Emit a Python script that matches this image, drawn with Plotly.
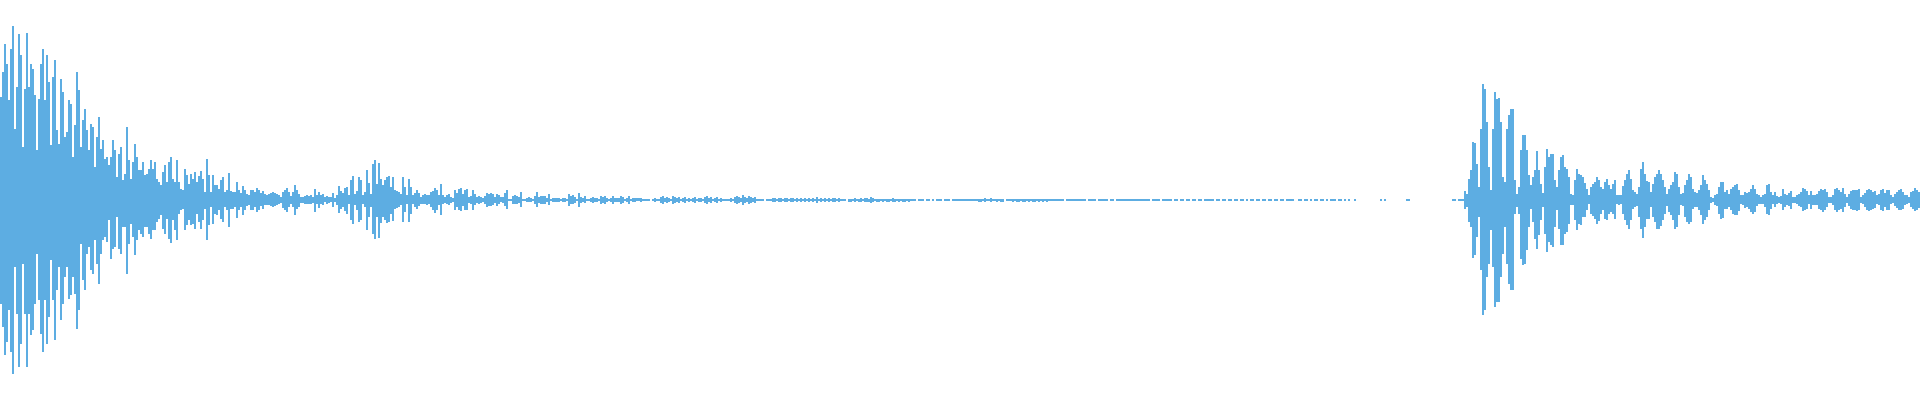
import plotly.graph_objects as go

# Audio waveform: peak levels per 2-px time bin, full scale = 200 units each side.
# Segment A: attack / decay of the first hit
seg_a_pos = [103,128,156,136,100,151,174,71,113,166,145,53,111,167,113,136,131,105,50,101,
             136,151,100,145,118,55,123,140,70,56,121,108,63,68,100,96,43,75,128,110,
             53,80,91,70,50,76,73,33,63,83,51,60,41,43,35,43,60,50,23,46,
             53,20,26,73,40,21,38,56,43,30,30,38,25,26,31,40,31,38,21,18]
seg_a_neg = [104,127,155,142,110,152,174,67,114,167,144,64,114,167,114,135,130,104,54,100,
             134,152,100,144,117,60,100,140,90,67,120,104,77,67,99,95,77,94,129,110,
             44,80,90,54,47,70,74,40,64,84,54,40,37,42,20,59,49,47,17,49,
             54,27,27,74,44,24,37,55,40,30,34,37,27,27,34,39,30,30,22,19]
# Segment B: tail of first hit
seg_b_pos = [15,28,35,18,38,43,21,18,40,18,11,10,31,25,16,26,21,28,18,24,
             29,21,8,41,25,8,25,15,15,11,20,23,8,10,27,9,8,8,18,10,
             7,14,10,6,5,10,10,8,12,10,7,9,6,5,6,7,8,7,6,5,
             3,8,10,12,8,4,8,15,10,6,3,3,4,5,4,5,3,11,5,8]
seg_b_neg = [15,29,34,19,39,43,20,30,40,14,10,9,30,25,20,25,24,29,14,22,
             29,20,9,40,25,7,24,14,15,10,19,22,7,10,27,9,9,7,18,10,
             7,15,10,6,5,10,10,7,12,10,6,9,5,5,5,6,7,6,5,4,
             3,8,10,12,7,4,7,15,9,7,3,3,4,4,4,4,3,12,4,8]
# Segment C: small secondary burst
seg_c_pos = [5,6,3,4,3,3,7,2,5,14,9,7,12,13,5,20,24,6,9,23,
             20,5,8,30,17,6,36,40,16,37,21,15,20,23,24,13,23,10,9,8,
             6,23,13,5,21,13,5,7,10,7,3,5,6,5,5,8,9,12,10,5,
             16,5,3,5,6,3,2,10,7,11,12,6,10,11,3,4,10,6,3,4]
seg_c_neg = [4,5,2,4,3,2,7,2,5,13,9,7,11,14,4,20,24,5,10,22,
             20,4,7,30,17,7,34,39,17,38,23,17,20,23,22,14,21,9,8,7,
             5,22,12,4,22,14,4,7,9,6,4,4,4,5,4,7,10,13,10,5,
             15,4,3,4,5,3,2,10,7,10,11,6,10,10,3,4,10,5,3,4]
# Segment D: low-level tail
seg_d_pos = [3,2,4,7,6,7,6,3,6,5,3,3,7,10,1,1,4,5,4,3,
             8,1,1,2,3,2,1,4,8,3,4,4,4,2,6,1,2,2,2,2,
             1,2,2,1,6,4,5,3,1,7,3,2,4,1,1,2,3,2,2,1,
             4,3,4,2,1,2,4,2,2,2,4,3,1,2,4,1,2,2,2,2]
seg_d_neg = [3,2,4,7,6,6,5,3,6,4,2,3,6,9,1,1,4,4,4,3,
             7,1,1,2,2,2,1,4,7,3,4,4,4,2,5,1,2,2,2,2,
             1,2,2,1,6,4,4,3,1,7,3,2,3,1,1,2,3,2,2,1,
             4,3,4,2,1,2,4,2,2,2,4,3,1,2,4,1,2,2,1,1]
# Segments E-I: near-silence (symmetric levels)
seg_e_lvl = [2,1,0.6,0.6,0.6,0,0.6,2,0.6,1,3,4,2,3,2,1,4,3,2,3,
             1,2,3,1,2,1,2,3,1,2,2,1,3,4,2,3,1,2,3,1,
             2,1,0.6,1,1,2,1,3,4,3,2,5,3,2,4,3,2,3,1,1,
             0.6,0.6,0,1,0.6,1,2,2,1,2,2,1,2,2,1,2,2,1,2,1]
seg_f_lvl = [2,1,2,1,2,1,2,1,3,1,2,1,2,1,2,1,2,2,1,2,
             1,0.6,0.6,0,1.5,1.5,0.6,2,1,1.5,2,1,2,2,1.5,3,2,1,1.5,1.5,
             0.6,1.5,0.6,1.5,1.5,0.6,2,1.5,0.6,1.5,0.6,1.5,1.5,0.6,1.5,1,0.6,1,0,0.6,
             1,0.6,0,1,1,0,1,0,1,0.6,1,0,1,0.6,1,0,1,1,0.6,1]
seg_g_lvl = [1,1,0.6,1,1,0.6,1,0.6,0.6,1.5,1.5,0.6,2,1,1,2,1,0.6,1.5,1,
             1.5,1.5,0,0.6,1,1,1.5,1,1.5,1.5,1,1.5,1.5,1,1.5,1,1.5,1.5,1,1.5,
             1,1.5,1,1.5,0.6,0.6,1,0.6,0.6,0.6,0.6,0.6,0,0.6,0.6,0.6,1,0.6,0.6,1,
             0.6,0.6,0.6,0,0.6,0.6,0.6,0.6,0,0.6,1,0.6,0.6,0.6,0,0.6,0.6,0,0.6,0.6]
seg_h_lvl = [0.6,1,0.6,0.6,0.6,1,0.6,0.6,1,0.6,1,1,0.6,0.6,0.6,0,1,0.6,0.6,1,
             0,0.6,1,0.6,1,0.6,0,1,0.6,0,0.6,0.6,0,1,0.6,0,0.6,0.6,0,0.6,
             0.6,0,0.6,0.6,1,0.6,0.6,0,0.6,0.6,0,0.6,0.6,0,0.6,0.6,0,0.6,0.6,0,
             0.6,0.6,0,0.6,0,0.6,0.6,0,0.6,0.6,0,0.6,0.6,0,0.6,0.6,0,0.6,0.6,0]
seg_i_lvl = [0.6,0.6,0,0.6,0.6,0.6,0.6,0,0,0.6,0.6,0,0.6,0.6,0,0.6,0,0.6,0.6,0,
             0.6,0.6,0,0.6,0,0.6,0.6,0.6,0,0.6,0.6,0,0.6,0,0.6,0,0,0.6,0,0,
             0,0,0,0,0,0,0,0,0,0,0.6,0,0.6,0,0,0,0,0,0,0,
             0,0,0,0.6,0.6,0,0,0,0,0,0,0,0,0,0,0,0,0,0,0]
# Segment J: second hit
seg_j_pos = [0,0,0,0,0,0,0.6,0.6,0,0.6,0.6,1,
             9,6,21,30,58,57,36,13,71,116,111,78,33,10,71,108,101,102,78,23,
             18,71,85,91,91,20,6,13,50,65,65,50,25,15,23,30,49,30,16,7,
             33,51,43,46,46,20,13,30,43,45,33,31,23,6,5,20,31,26,25,23,
             17,11,5,13,16,18,23,20]
seg_j_neg = [0,0,0,0,0,0,0.6,0.6,0,0.6,0.6,1,
             9,7,22,27,58,55,37,17,70,115,110,77,64,30,67,107,102,102,77,54,
             27,64,84,90,90,14,7,14,59,65,64,50,27,9,22,39,49,35,20,7,
             34,52,42,45,47,27,10,29,45,45,34,32,24,5,5,20,30,24,25,17,
             17,10,4,14,16,19,24,21]
# Segment K, L: second hit tail
seg_k_pos = [13,11,18,21,15,11,16,20,5,5,5,14,20,26,30,21,10,8,6,13,
             31,38,26,19,18,8,16,23,26,30,26,20,13,6,11,15,18,28,26,13,
             6,7,15,20,26,23,11,8,7,10,15,25,20,16,10,3,2,5,6,13,
             18,18,8,10,6,11,13,15,16,10,5,5,8,7,8,11,15,11,6,5]
seg_k_neg = [14,10,19,20,14,12,14,19,4,5,4,14,20,25,29,20,9,7,6,17,
             29,38,27,19,19,7,17,22,29,29,26,20,14,6,12,15,20,29,27,15,
             5,6,17,22,24,22,9,7,7,10,15,24,20,17,10,3,2,5,6,14,
             19,18,9,9,7,10,14,15,15,11,4,5,8,7,9,12,14,12,6,4]
seg_l_pos = [3,5,6,15,16,8,5,8,4,3,4,11,6,5,7,9,3,3,5,6,
             8,12,11,9,5,9,5,5,6,9,11,10,11,8,3,3,5,11,12,10,
             8,12,6,3,6,9,10,10,10,11,3,5,7,10,11,10,8,9,5,6,
             10,11,7,10,10,5,3,6,8,10,11,8,5,5,3,8,9,12,10,8]
seg_l_neg = [4,4,7,14,15,9,4,7,4,3,4,10,7,5,6,9,3,3,4,6,
             7,11,10,9,4,9,5,5,5,9,10,12,10,7,3,3,5,10,12,10,
             9,12,7,3,6,9,10,10,11,10,3,4,7,10,11,10,9,8,4,5,
             10,11,7,10,10,4,3,6,8,10,10,9,5,4,3,7,9,11,10,8]

mid = seg_e_lvl + seg_f_lvl + seg_g_lvl + seg_h_lvl + seg_i_lvl
pos = seg_a_pos + seg_b_pos + seg_c_pos + seg_d_pos + mid + seg_j_pos + seg_k_pos + seg_l_pos
neg = seg_a_neg + seg_b_neg + seg_c_neg + seg_d_neg + mid + seg_j_neg + seg_k_neg + seg_l_neg

n = len(pos)
t = list(range(n))

fig = go.Figure(go.Bar(
    x=t,
    y=[p + q for p, q in zip(pos, neg)],
    base=[-q for q in neg],
    marker=dict(color="#5DADE2", line=dict(width=0)),
    hoverinfo="skip",
))
fig.update_layout(
    width=1920, height=400,
    margin=dict(l=0, r=0, t=0, b=0),
    bargap=0,
    plot_bgcolor="white", paper_bgcolor="white",
    showlegend=False,
    xaxis=dict(visible=False, range=[-0.5, n - 0.5], fixedrange=True),
    yaxis=dict(visible=False, range=[-200, 200], fixedrange=True),
)
fig.write_html("out.html", config={"displayModeBar": False},
               post_script="document.body.style.margin='0';document.body.style.overflow='hidden';")
